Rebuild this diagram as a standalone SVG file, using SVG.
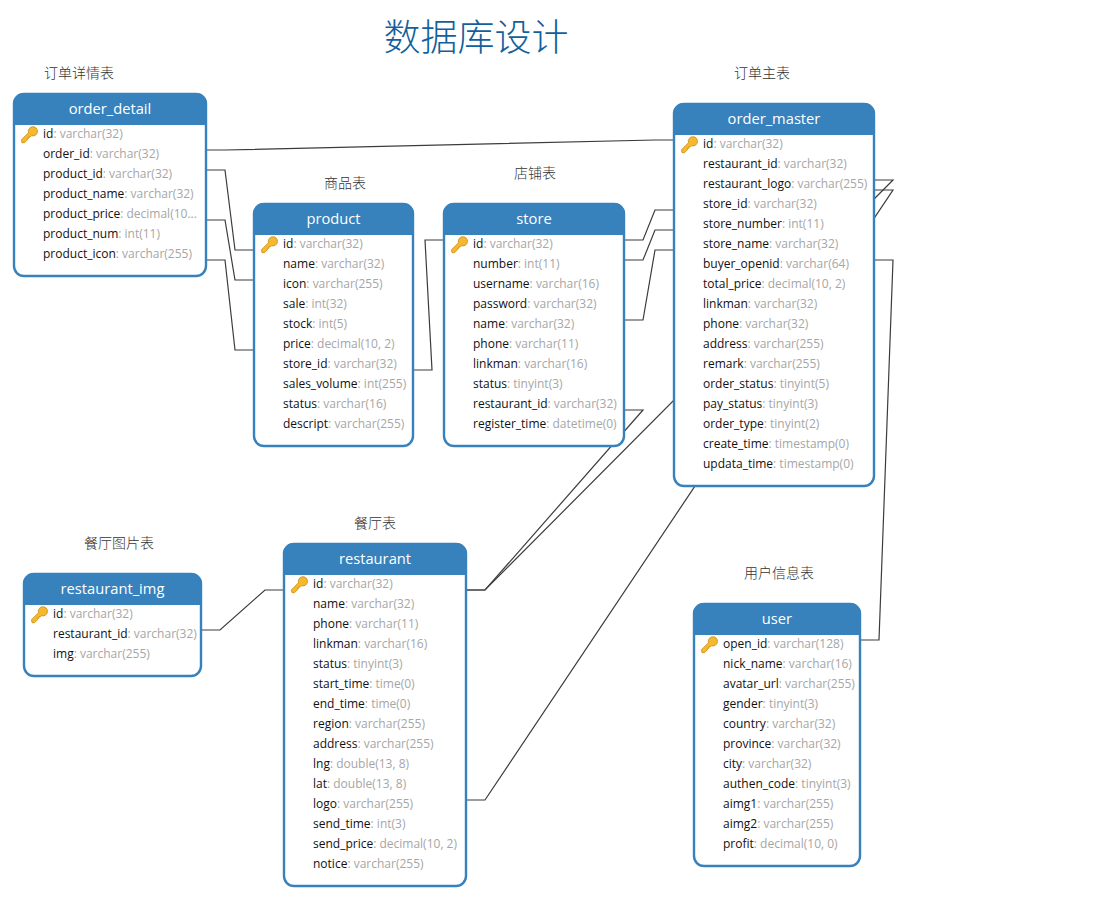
<svg xmlns="http://www.w3.org/2000/svg" width="1103" height="900" viewBox="0 0 1103 900">
<style>
text{font-family:"Open Sans","Noto Sans CJK SC",sans-serif}
.bg{fill:#fff;stroke:#3781bd;stroke-width:2.4}
.hd{fill:#3781bd}
.ti{fill:#fff;font-size:14.700px;text-anchor:middle}
.r{font-size:12px;fill:#111}
.r tspan{fill:#a6a6a6}
.cap{font-family:"Noto Sans CJK SC",sans-serif;font-size:14px;font-weight:300;fill:#333;text-anchor:middle}
.c{fill:none;stroke:#3c3c3c;stroke-width:1.2}
.key{fill:#f5b82e;stroke:#c98a10;stroke-width:.8}
#title{font-family:"Noto Sans CJK SC",sans-serif;font-size:37px;font-weight:300;fill:#125f9e;text-anchor:middle}
</style>
<defs>
<g id="k"><path class="key" d="M-7.5 6.5l7-7a4.6 4.6 0 1 1 3 3l-1 1h-1.500v1.500h-1.500v1.500l-3 3h-2.500z" transform="translate(0,-.8)"/></g>
</defs>
<text id="title" x="476" y="51">数据库设计</text>
<g id="captions">
<text class="cap" x="79" y="78">订单详情表</text>
<text class="cap" x="762" y="78">订单主表</text>
<text class="cap" x="345" y="188">商品表</text>
<text class="cap" x="535" y="178">店铺表</text>
<text class="cap" x="119" y="548">餐厅图片表</text>
<text class="cap" x="375" y="528">餐厅表</text>
<text class="cap" x="779" y="578">用户信息表</text>
</g>
<g id="connectors">
<polyline class="c" points="206,150 225,150 655,140 674,140"/>
<polyline class="c" points="206,170 225,170 235,250 254,250"/>
<polyline class="c" points="206,220 225,220 235,280 254,280"/>
<polyline class="c" points="206,260 225,260 235,350 254,350"/>
<polyline class="c" points="413,370 432,370 425,240 444,240"/>
<polyline class="c" points="624,240 643,240 655,210 674,210"/>
<polyline class="c" points="624,260 643,260 655,230 674,230"/>
<polyline class="c" points="624,320 643,320 655,250 674,250"/>
<polyline class="c" points="624,410 643,410 485,590 466,590"/>
<polyline class="c" points="874,180 893,180 485,590 466,590"/>
<polyline class="c" points="874,190 893,190 485,800 466,800"/>
<polyline class="c" points="874,260 893,260 879,640 860,640"/>
<polyline class="c" points="201,630 220,630 265,590 284,590"/>
</g>
<g id="order_detail">
<rect class="bg" x="14" y="94" width="192" height="182" rx="10"/>
<path class="hd" d="M13 125v-21a11 11 0 0 1 11-11h172a11 11 0 0 1 11 11v21z"/>
<text class="ti" x="110" y="114">order_detail</text>
<use href="#k" x="29" y="134"/>
<text class="r" x="43" y="138">id<tspan>: varchar(32)</tspan></text>
<text class="r" x="43" y="158">order_id<tspan>: varchar(32)</tspan></text>
<text class="r" x="43" y="178">product_id<tspan>: varchar(32)</tspan></text>
<text class="r" x="43" y="198">product_name<tspan>: varchar(32)</tspan></text>
<text class="r" x="43" y="218">product_price<tspan>: decimal(10...</tspan></text>
<text class="r" x="43" y="238">product_num<tspan>: int(11)</tspan></text>
<text class="r" x="43" y="258">product_icon<tspan>: varchar(255)</tspan></text>
</g>
<g id="product">
<rect class="bg" x="254" y="204" width="159" height="242" rx="10"/>
<path class="hd" d="M253 235v-21a11 11 0 0 1 11-11h139a11 11 0 0 1 11 11v21z"/>
<text class="ti" x="333.500" y="224">product</text>
<use href="#k" x="269" y="244"/>
<text class="r" x="283" y="248">id<tspan>: varchar(32)</tspan></text>
<text class="r" x="283" y="268">name<tspan>: varchar(32)</tspan></text>
<text class="r" x="283" y="288">icon<tspan>: varchar(255)</tspan></text>
<text class="r" x="283" y="308">sale<tspan>: int(32)</tspan></text>
<text class="r" x="283" y="328">stock<tspan>: int(5)</tspan></text>
<text class="r" x="283" y="348">price<tspan>: decimal(10, 2)</tspan></text>
<text class="r" x="283" y="368">store_id<tspan>: varchar(32)</tspan></text>
<text class="r" x="283" y="388">sales_volume<tspan>: int(255)</tspan></text>
<text class="r" x="283" y="408">status<tspan>: varchar(16)</tspan></text>
<text class="r" x="283" y="428">descript<tspan>: varchar(255)</tspan></text>
</g>
<g id="store">
<rect class="bg" x="444" y="204" width="180" height="242" rx="10"/>
<path class="hd" d="M443 235v-21a11 11 0 0 1 11-11h160a11 11 0 0 1 11 11v21z"/>
<text class="ti" x="534" y="224">store</text>
<use href="#k" x="459" y="244"/>
<text class="r" x="473" y="248">id<tspan>: varchar(32)</tspan></text>
<text class="r" x="473" y="268">number<tspan>: int(11)</tspan></text>
<text class="r" x="473" y="288">username<tspan>: varchar(16)</tspan></text>
<text class="r" x="473" y="308">password<tspan>: varchar(32)</tspan></text>
<text class="r" x="473" y="328">name<tspan>: varchar(32)</tspan></text>
<text class="r" x="473" y="348">phone<tspan>: varchar(11)</tspan></text>
<text class="r" x="473" y="368">linkman<tspan>: varchar(16)</tspan></text>
<text class="r" x="473" y="388">status<tspan>: tinyint(3)</tspan></text>
<text class="r" x="473" y="408">restaurant_id<tspan>: varchar(32)</tspan></text>
<text class="r" x="473" y="428">register_time<tspan>: datetime(0)</tspan></text>
</g>
<g id="order_master">
<rect class="bg" x="674" y="104" width="200" height="382" rx="10"/>
<path class="hd" d="M673 135v-21a11 11 0 0 1 11-11h180a11 11 0 0 1 11 11v21z"/>
<text class="ti" x="774" y="124">order_master</text>
<use href="#k" x="689" y="144"/>
<text class="r" x="703" y="148">id<tspan>: varchar(32)</tspan></text>
<text class="r" x="703" y="168">restaurant_id<tspan>: varchar(32)</tspan></text>
<text class="r" x="703" y="188">restaurant_logo<tspan>: varchar(255)</tspan></text>
<text class="r" x="703" y="208">store_id<tspan>: varchar(32)</tspan></text>
<text class="r" x="703" y="228">store_number<tspan>: int(11)</tspan></text>
<text class="r" x="703" y="248">store_name<tspan>: varchar(32)</tspan></text>
<text class="r" x="703" y="268">buyer_openid<tspan>: varchar(64)</tspan></text>
<text class="r" x="703" y="288">total_price<tspan>: decimal(10, 2)</tspan></text>
<text class="r" x="703" y="308">linkman<tspan>: varchar(32)</tspan></text>
<text class="r" x="703" y="328">phone<tspan>: varchar(32)</tspan></text>
<text class="r" x="703" y="348">address<tspan>: varchar(255)</tspan></text>
<text class="r" x="703" y="368">remark<tspan>: varchar(255)</tspan></text>
<text class="r" x="703" y="388">order_status<tspan>: tinyint(5)</tspan></text>
<text class="r" x="703" y="408">pay_status<tspan>: tinyint(3)</tspan></text>
<text class="r" x="703" y="428">order_type<tspan>: tinyint(2)</tspan></text>
<text class="r" x="703" y="448">create_time<tspan>: timestamp(0)</tspan></text>
<text class="r" x="703" y="468">updata_time<tspan>: timestamp(0)</tspan></text>
</g>
<g id="restaurant_img">
<rect class="bg" x="24" y="574" width="177" height="102" rx="10"/>
<path class="hd" d="M23 605v-21a11 11 0 0 1 11-11h157a11 11 0 0 1 11 11v21z"/>
<text class="ti" x="112.500" y="594">restaurant_img</text>
<use href="#k" x="39" y="614"/>
<text class="r" x="53" y="618">id<tspan>: varchar(32)</tspan></text>
<text class="r" x="53" y="638">restaurant_id<tspan>: varchar(32)</tspan></text>
<text class="r" x="53" y="658">img<tspan>: varchar(255)</tspan></text>
</g>
<g id="restaurant">
<rect class="bg" x="284" y="544" width="182" height="342" rx="10"/>
<path class="hd" d="M283 575v-21a11 11 0 0 1 11-11h162a11 11 0 0 1 11 11v21z"/>
<text class="ti" x="375" y="564">restaurant</text>
<use href="#k" x="299" y="584"/>
<text class="r" x="313" y="588">id<tspan>: varchar(32)</tspan></text>
<text class="r" x="313" y="608">name<tspan>: varchar(32)</tspan></text>
<text class="r" x="313" y="628">phone<tspan>: varchar(11)</tspan></text>
<text class="r" x="313" y="648">linkman<tspan>: varchar(16)</tspan></text>
<text class="r" x="313" y="668">status<tspan>: tinyint(3)</tspan></text>
<text class="r" x="313" y="688">start_time<tspan>: time(0)</tspan></text>
<text class="r" x="313" y="708">end_time<tspan>: time(0)</tspan></text>
<text class="r" x="313" y="728">region<tspan>: varchar(255)</tspan></text>
<text class="r" x="313" y="748">address<tspan>: varchar(255)</tspan></text>
<text class="r" x="313" y="768">lng<tspan>: double(13, 8)</tspan></text>
<text class="r" x="313" y="788">lat<tspan>: double(13, 8)</tspan></text>
<text class="r" x="313" y="808">logo<tspan>: varchar(255)</tspan></text>
<text class="r" x="313" y="828">send_time<tspan>: int(3)</tspan></text>
<text class="r" x="313" y="848">send_price<tspan>: decimal(10, 2)</tspan></text>
<text class="r" x="313" y="868">notice<tspan>: varchar(255)</tspan></text>
</g>
<g id="user">
<rect class="bg" x="694" y="604" width="166" height="262" rx="10"/>
<path class="hd" d="M693 635v-21a11 11 0 0 1 11-11h146a11 11 0 0 1 11 11v21z"/>
<text class="ti" x="777" y="624">user</text>
<use href="#k" x="709" y="644"/>
<text class="r" x="723" y="648">open_id<tspan>: varchar(128)</tspan></text>
<text class="r" x="723" y="668">nick_name<tspan>: varchar(16)</tspan></text>
<text class="r" x="723" y="688">avatar_url<tspan>: varchar(255)</tspan></text>
<text class="r" x="723" y="708">gender<tspan>: tinyint(3)</tspan></text>
<text class="r" x="723" y="728">country<tspan>: varchar(32)</tspan></text>
<text class="r" x="723" y="748">province<tspan>: varchar(32)</tspan></text>
<text class="r" x="723" y="768">city<tspan>: varchar(32)</tspan></text>
<text class="r" x="723" y="788">authen_code<tspan>: tinyint(3)</tspan></text>
<text class="r" x="723" y="808">aimg1<tspan>: varchar(255)</tspan></text>
<text class="r" x="723" y="828">aimg2<tspan>: varchar(255)</tspan></text>
<text class="r" x="723" y="848">profit<tspan>: decimal(10, 0)</tspan></text>
</g>
</svg>
